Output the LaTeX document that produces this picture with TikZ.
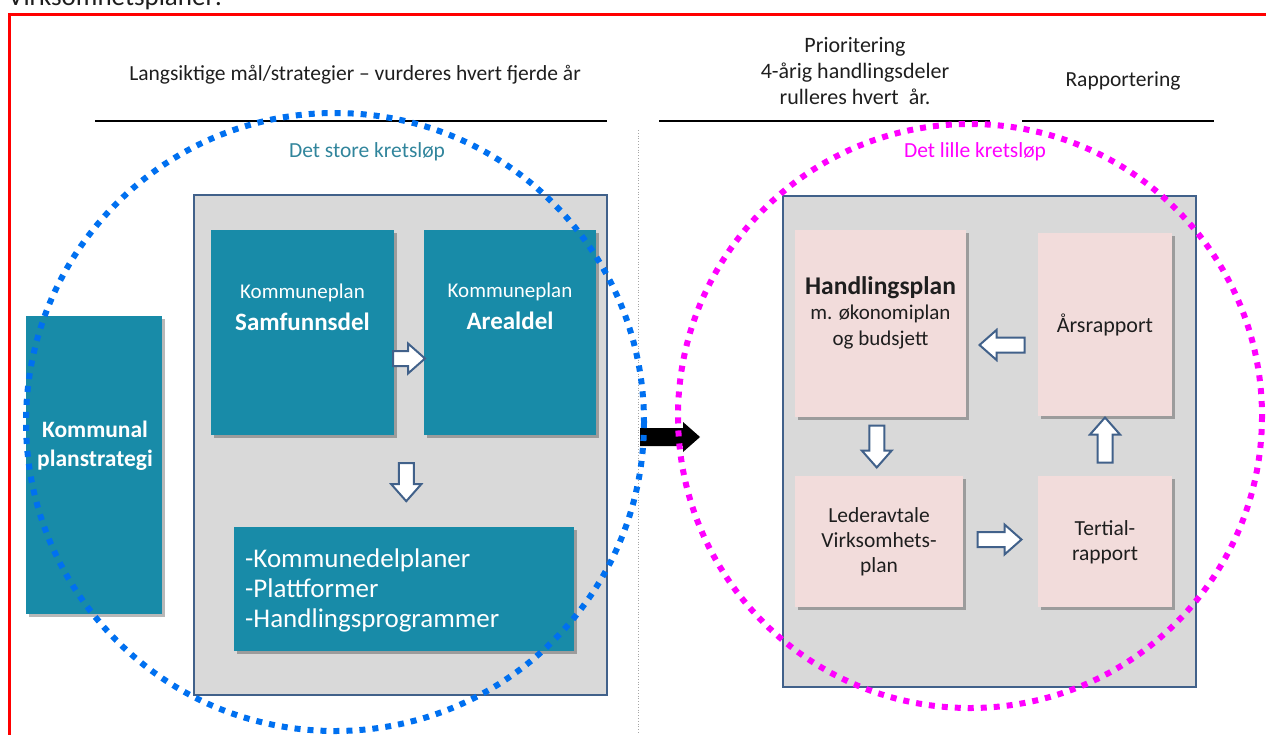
\documentclass[tikz,border=0pt]{standalone}
\usepackage{fontspec}
\setmainfont{Carlito}
\usetikzlibrary{calc,shadows}
\definecolor{tealbox}{RGB}{24,139,168}
\definecolor{pinkbox}{RGB}{242,220,219}
\definecolor{grayfill}{RGB}{217,217,217}
\definecolor{frameblue}{RGB}{65,97,138}
\definecolor{dotblue}{RGB}{0,112,240}
\definecolor{dotmag}{RGB}{255,0,255}
\definecolor{titleteal}{RGB}{49,133,156}
\definecolor{txt}{RGB}{30,30,30}
\tikzset{
  shad/.style={drop shadow={shadow xshift=3pt, shadow yshift=-3pt, opacity=0.28, fill=black}},
  tbox/.style={fill=tealbox, draw=none, inner sep=0pt, shad},
  pbox/.style={fill=pinkbox, draw=none, inner sep=0pt, shad},
  gbox/.style={fill=grayfill, draw=frameblue, line width=1.8pt, inner sep=0pt},
  hdr/.style={text=txt, font=\fontsize{21.5}{25}\selectfont, align=center, inner sep=0pt},
  wtxt/.style={text=white, align=center, inner sep=0pt},
  btxt/.style={text=txt, align=center, inner sep=0pt, font=\fontsize{21.5}{25}\selectfont},
  hline/.style={line width=1.1pt, black},
  pics/barrow/.style={code={
    \draw[draw=frameblue, fill=white, line width=2pt, line join=miter]
      (-#1/2,-7.5) -- (#1/2-17,-7.5) -- (#1/2-17,-15) -- (#1/2,0) -- (#1/2-17,15) -- (#1/2-17,7.5) -- (-#1/2,7.5) -- cycle;
  }},
  pics/karrow/.style={code={
    \fill[black] (-#1/2,-9) -- (#1/2-17,-9) -- (#1/2-17,-15) -- (#1/2,0) -- (#1/2-17,15) -- (#1/2-17,9) -- (-#1/2,9) -- cycle;
  }}
}
\begin{document}
\begin{tikzpicture}[x=1pt,y=-1pt]
\useasboundingbox (0,0) rectangle (1266,734);
% top cut text
\node[anchor=base west, inner sep=0pt, text=txt, font=\fontsize{27}{30}\selectfont] (vp) at (8,5) {Virksomhetsplaner:};
% red frame
\draw[red, line width=3pt] (1290,14) -- (9,14) -- (9,760);
% dotted separator
\draw[gray!70, line width=0.8pt, dotted] (638,130) -- (638,734);
% headers
\node[hdr] (h1) at (355,75) {Langsiktige mål/strategier – vurderes hvert fjerde år};
\draw[hline] (95,121) -- (607,121);
\node[hdr, font=\fontsize{22}{26}\selectfont] (h2) at (855,71) {Prioritering\\4-årig handlingsdeler\\rulleres hvert\ \ år.};
\draw[hline] (659,121) -- (990,121);
\node[hdr] (h3) at (1123,81) {Rapportering};
\draw[hline] (1022,121) -- (1214,121);
% gray containers
\node[gbox, minimum width=413pt, minimum height=500pt] (gl) at (400.5,445) {};
\node[gbox, minimum width=413pt, minimum height=491pt] (gr) at (989.5,441.5) {};
% teal boxes
\node[tbox, minimum width=183pt, minimum height=205pt] (samf) at (302.5,332.5) {};
\node[tbox, minimum width=172pt, minimum height=205pt] (areal) at (510,332.5) {};
\node[tbox, minimum width=136pt, minimum height=298pt] (kps) at (94,465) {};
\node[tbox, minimum width=340pt, minimum height=124pt] (kdp) at (404,589) {};
\node[wtxt, font=\fontsize{21}{24}\selectfont] (t1) at ($(samf.north)+(0,63)$) {Kommuneplan};
\node[wtxt, font=\bfseries\fontsize{25}{28}\selectfont] (t2) at ($(samf.north)+(0,92)$) {Samfunnsdel};
\node[wtxt, font=\fontsize{21}{24}\selectfont] (t3) at ($(areal.north)+(0,62)$) {Kommuneplan};
\node[wtxt, font=\bfseries\fontsize{25}{28}\selectfont] (t4) at ($(areal.north)+(0,91)$) {Arealdel};
\node[wtxt, font=\bfseries\fontsize{23.5}{29}\selectfont] (t5) at (95,446) {Kommunal\\planstrategi};
\node[wtxt, align=left, anchor=west, font=\fontsize{27}{30}\selectfont] (t6) at (245,590) {-Kommunedelplaner\\-Plattformer\\-Handlingsprogrammer};
% pink boxes
\node[pbox, minimum width=171pt, minimum height=187pt] (hp) at (880.5,323.5) {};
\node[pbox, minimum width=134pt, minimum height=183pt] (ar) at (1105,324.5) {};
\node[pbox, minimum width=168pt, minimum height=131pt] (la) at (879,541.5) {};
\node[pbox, minimum width=134pt, minimum height=131pt] (tr) at (1105,541.5) {};
\node[btxt, font=\bfseries\fontsize{25.5}{28}\selectfont] (t7) at ($(hp.north)+(0,58)$) {Handlingsplan};
\node[btxt, font=\fontsize{21}{26}\selectfont] (t8) at ($(hp.north)+(0,97)$) {m. økonomiplan\\og budsjett};
\node[btxt, font=\fontsize{22}{25}\selectfont] (t9) at (ar.center) {Årsrapport};
\node[btxt] (t10) at (la.center) {Lederavtale\\Virksomhets-\\plan};
\node[btxt] (t11) at ($(tr.center)+(0,1)$) {Tertial-\\rapport};
% circle titles
\node[text=titleteal, font=\fontsize{21.5}{25}\selectfont, inner sep=0pt] (c1) at (367,152) {Det store kretsløp};
\node[text=dotmag, font=\fontsize{21.5}{25}\selectfont, inner sep=0pt] (c2) at (975,152) {Det lille kretsløp};
% block arrows
\pic at ($(samf.east)!0.5!(areal.west)+(0,26)$) {barrow=32};
\pic[rotate=-90] at ($(samf.south)!0.5!(areal.south)+(0,47)$) {barrow=38};
\pic[rotate=180] at ($(hp.east)!0.5!(ar.west)+(0,21)$) {barrow=45};
\pic[rotate=-90] at ($(hp.south)!0.5!(la.north)+(-3,0)$) {barrow=42};
\pic[rotate=90] at ($(ar.south)!0.5!(tr.north)+(0,-6)$) {barrow=45};
\pic at ($(la.east)!0.5!(tr.west)+(-1,-2)$) {barrow=44};
\coordinate (mid) at (670,437);
\pic at (mid) {karrow=60};
% dotted circles
\draw[dotblue, line width=6pt, dash pattern=on 6pt off 7pt] (335,422) circle[radius=309];
\draw[dotmag, line width=6pt, dash pattern=on 6pt off 7pt] (970,416) circle[radius=292];
\end{tikzpicture}
\end{document}
